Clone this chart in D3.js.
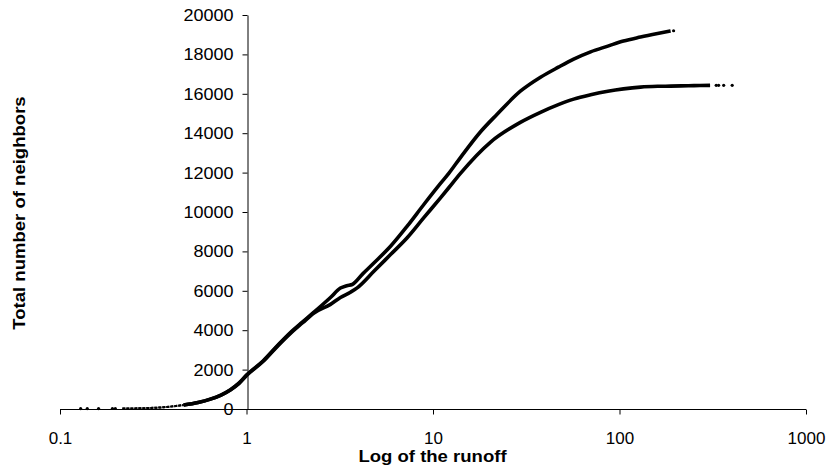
<!DOCTYPE html>
<html>
<head>
<meta charset="utf-8">
<script src="https://cdn.jsdelivr.net/npm/d3@7"></script>
<style>
  html, body { margin: 0; padding: 0; background: #fff; }
  svg { display: block; }
  text { font-family: "Liberation Sans", Arial, Helvetica, sans-serif; fill: #000; }
</style>
</head>
<body>
<svg id="chart" width="830" height="470"></svg>
<script>
// Cumulative neighbour counts against runoff (log scale), two runs.
const runoffUpper    = [0.216, 0.25, 0.3, 0.36, 0.46, 0.55, 0.64, 0.73, 0.82, 0.91, 1.0, 1.23, 1.48, 1.72, 2.0, 2.29, 2.82, 3.19, 3.45, 3.69, 4.2, 4.82, 5.92, 7.27, 8.93, 10.97, 12.15, 14, 17.9, 22, 29.4, 37.7, 47, 56.8, 70, 86.6, 105, 129.6, 160, 188];
const neighborsUpper = [20, 30, 50, 90, 200, 330, 500, 710, 980, 1310, 1720, 2450, 3260, 3880, 4420, 4900, 5660, 6140, 6260, 6320, 6860, 7410, 8260, 9280, 10380, 11450, 11960, 12750, 14050, 14950, 16130, 16840, 17350, 17760, 18130, 18420, 18680, 18880, 19060, 19190];

const runoffLower    = [0.216, 0.25, 0.3, 0.36, 0.46, 0.55, 0.64, 0.73, 0.82, 0.91, 1.0, 1.23, 1.48, 1.72, 2.0, 2.29, 2.82, 3.19, 3.61, 3.92, 4.82, 5.92, 7.27, 8.93, 10.97, 12.15, 14, 20.3, 29.4, 37.7, 47, 56.8, 70, 86.6, 105, 129.6, 160, 188, 234, 270, 306];
const neighborsLower = [20, 30, 50, 90, 200, 330, 500, 710, 970, 1290, 1700, 2420, 3230, 3840, 4380, 4860, 5310, 5660, 5930, 6150, 6990, 7840, 8690, 9710, 10720, 11230, 11950, 13540, 14550, 15060, 15450, 15730, 15950, 16130, 16250, 16340, 16380, 16390, 16410, 16420, 16430];

// Isolated points at both ends of the runs
const sparseRunoff    = [0.129, 0.14, 0.161, 0.191, 0.198, 195, 330, 340, 362, 402];
const sparseNeighbors = [20, 20, 20, 25, 25, 19200, 16430, 16430, 16430, 16430];

const xTickValues = [0.1, 1, 10, 100, 1000];
const xTickLabels = ["0.1", "1", "10", "100", "1000"];
const yTickValues = [0, 2000, 4000, 6000, 8000, 10000, 12000, 14000, 16000, 18000, 20000];

const svg = d3.select("#chart");

const x = d3.scaleLog().domain([0.1, 1000]).range([60, 806]);
const y = d3.scaleLinear().domain([0, 20000]).range([409, 15]);

// Slightly widened lettering
function widen(sel, factor) {
  sel.each(function () {
    const len = this.getComputedTextLength();
    d3.select(this).attr("textLength", len * factor).attr("lengthAdjust", "spacingAndGlyphs");
  });
}

// Axes: x-axis along the bottom, y-axis crossing at runoff = 1
const xAxisG = svg.append("g").attr("transform", `translate(0,${y(0) + 0.5})`);
xAxisG.call(d3.axisBottom(x).tickValues(xTickValues).tickFormat((d, i) => xTickLabels[i]).tickSize(5).tickSizeOuter(0));
xAxisG.select(".domain").attr("stroke", "#000").attr("d", `M${x(0.1)},0H${x(1000)}`);
xAxisG.selectAll(".tick line").attr("stroke", "#000");
xAxisG.selectAll(".tick text")
  .attr("y", 22).attr("dy", "0.71em")
  .style("font-size", "17px").attr("font-family", null);

const yAxisG = svg.append("g").attr("transform", `translate(${Math.round(x(1)) + 0.5},0)`);
yAxisG.call(d3.axisLeft(y).tickValues(yTickValues).tickFormat(d3.format("d")).tickSize(5).tickSizeOuter(0));
yAxisG.select(".domain").attr("stroke", "#000");
yAxisG.selectAll(".tick line").attr("stroke", "#000");
yAxisG.selectAll(".tick text")
  .attr("x", -14)
  .style("font-size", "17px").attr("font-family", null);
widen(yAxisG.selectAll(".tick text"), 1.06);

// Curves: thin start where the points are sparse, thick body afterwards
const line = d3.line()
  .x(d => x(d[0]))
  .y(d => y(d[1]))
  .curve(d3.curveMonotoneX);

const upper = runoffUpper.map((r, i) => [r, neighborsUpper[i]]);
const lower = runoffLower.map((r, i) => [r, neighborsLower[i]]);

[lower, upper].forEach(series => {
  svg.append("path").datum(series.filter(d => d[0] <= 0.46))
    .attr("d", line).attr("fill", "none").attr("stroke", "#000")
    .attr("stroke-width", 2).attr("stroke-dasharray", "3,1");
  svg.append("path").datum(series.filter(d => d[0] >= 0.46))
    .attr("d", line).attr("fill", "none").attr("stroke", "#000")
    .attr("stroke-width", 3.6).attr("stroke-linejoin", "round");
});

svg.append("g").selectAll("circle")
  .data(sparseRunoff.map((r, i) => [r, sparseNeighbors[i]]))
  .join("circle")
  .attr("cx", d => x(d[0])).attr("cy", d => y(d[1]))
  .attr("r", 1.6).attr("fill", "#000");

// Axis titles
const xTitle = svg.append("text")
  .attr("x", 432.5).attr("y", 462)
  .attr("text-anchor", "middle")
  .style("font-size", "17px").style("font-weight", "bold")
  .text("Log of the runoff");
widen(xTitle, 1.09);

const yTitle = svg.append("text")
  .attr("transform", "translate(25,213) rotate(-90)")
  .attr("text-anchor", "middle")
  .style("font-size", "17px").style("font-weight", "bold")
  .text("Total number of neighbors");
widen(yTitle, 1.09);
</script>
</body>
</html>
